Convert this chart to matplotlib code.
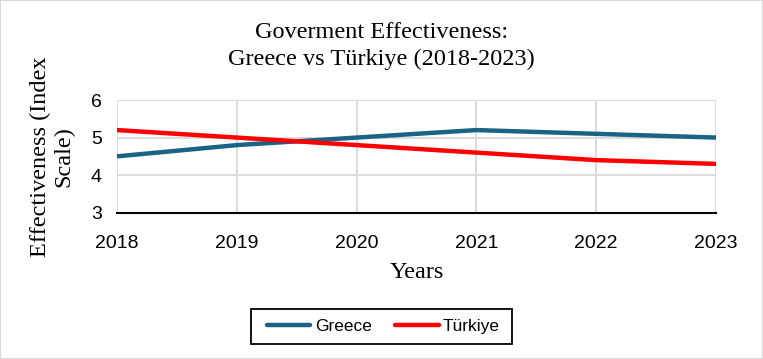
import matplotlib.pyplot as plt
from matplotlib.patches import Rectangle

years = [2018, 2019, 2020, 2021, 2022, 2023]
greece = [4.5, 4.8, 5.0, 5.2, 5.1, 5.0]
turkiye = [5.2, 5.0, 4.8, 4.6, 4.4, 4.3]

fig = plt.figure(figsize=(7.63, 3.59), dpi=100)
ax = fig.add_axes([0.1533, 0.4075, 0.7851, 0.3139])

ax.plot(years, greece, color='#1a6384', lw=3.2, label='Greece', solid_capstyle='butt')
ax.plot(years, turkiye, color='#ff0000', lw=3.2, label='Türkiye', solid_capstyle='butt')

ax.set_xlim(2018, 2023)
ax.set_ylim(3, 6)
ax.set_yticks([3, 4, 5, 6])
ax.set_xticks(years)
ax.grid(True, color='#d9d9d9', lw=1.3)
ax.set_axisbelow(True)
for s in ['top', 'right', 'left']:
    ax.spines[s].set_visible(False)
ax.spines['bottom'].set_color('black')
ax.spines['bottom'].set_linewidth(1.5)
ax.tick_params(length=0, labelsize=14)
ax.tick_params(axis='x', pad=16)
ax.tick_params(axis='y', pad=11)
for lab in ax.get_xticklabels() + ax.get_yticklabels():
    lab.set_fontfamily('Liberation Sans')

fig.suptitle('Goverment Effectiveness:\nGreece vs Türkiye (2018-2023)', x=0.5, y=0.94,
             va='top', fontfamily='Liberation Serif', fontsize=17.5, linespacing=1.4)
ax.set_xlabel('Years', fontfamily='Liberation Serif', fontsize=17.5, labelpad=7)
ax.set_ylabel('Effectiveness (Index\nScale)', fontfamily='Liberation Serif', fontsize=17.5,
              labelpad=12, linespacing=1.1)

# legend without own frame, box drawn separately to get Excel-like padding
leg = fig.legend(loc='center', bbox_to_anchor=(0.5026, 0.0905), ncol=2, frameon=False,
                 prop={'family': 'Liberation Sans', 'size': 12.5}, handlelength=2.5,
                 handletextpad=0.25, columnspacing=1.35, borderaxespad=0)
for h in leg.get_lines():
    h.set_solid_capstyle('round')
fig.patches.append(Rectangle((0.329, 0.0418), 0.342, 0.0975, transform=fig.transFigure,
                             fill=False, edgecolor='black', lw=1.3))

fig.patches.append(Rectangle((0, 0), 1, 1, transform=fig.transFigure, fill=False,
                             edgecolor='#d9d9d9', lw=1.5))

fig.savefig('out.png', dpi=100)
